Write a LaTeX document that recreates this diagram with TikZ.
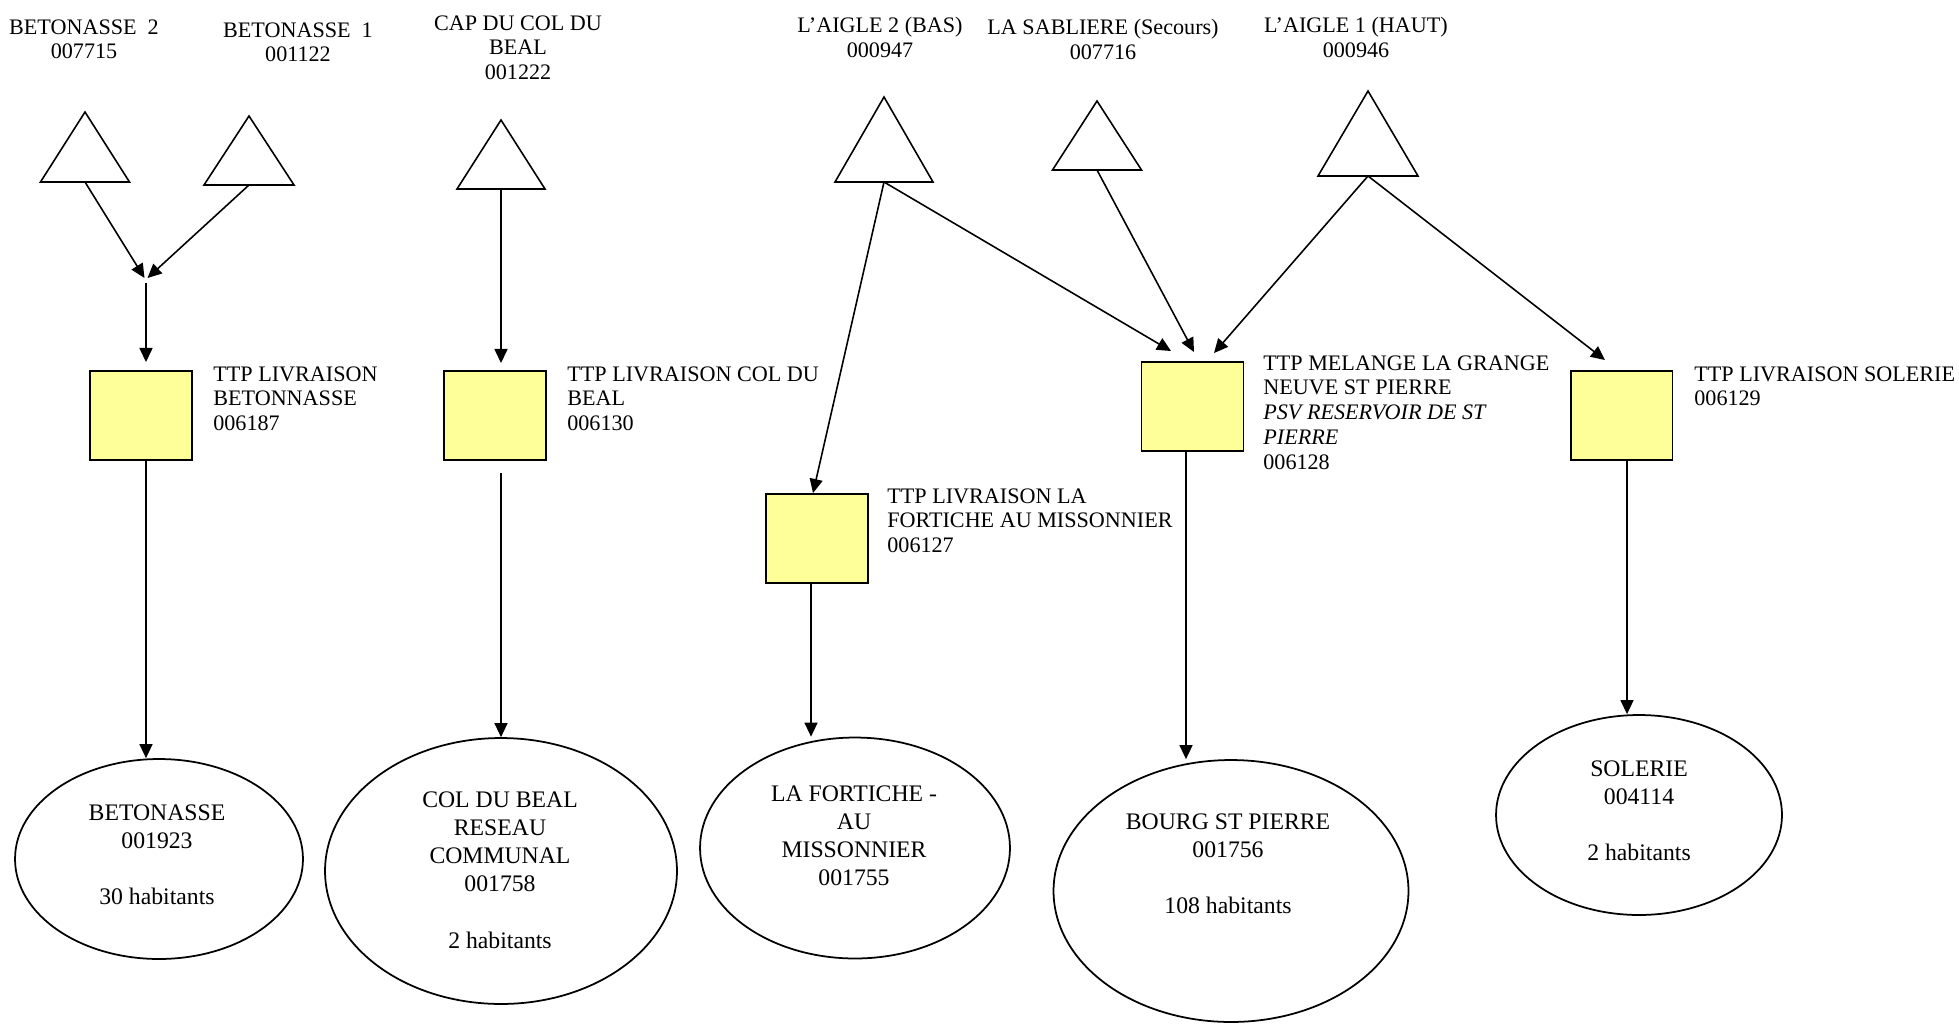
\documentclass[tikz,border=0pt]{standalone}
\usepackage{fontspec}
\setmainfont{Liberation Serif}
\usetikzlibrary{arrows.meta,shapes.geometric,calc}
\definecolor{ttpyellow}{HTML}{FFFF99}
\begin{document}
\begin{tikzpicture}[x=0.02cm,y=-0.02cm,
  arr/.style={-{Triangle[length=8pt,width=7.4pt]}, line width=0.9pt},
  tank/.style={draw, fill=ttpyellow, line width=1.1pt, minimum width=2.04cm, minimum height=1.78cm, inner sep=0pt},
  ttplabel/.style={anchor=north west, align=left, inner sep=0pt, font=\fontsize{12.6}{14.2}\selectfont},
  srclabel/.style={anchor=north, align=center, inner sep=0pt, font=\fontsize{12.6}{14.2}\selectfont},
  commune/.style={draw, ellipse, inner sep=0pt, line width=1pt},
  ctext/.style={anchor=north, align=center, inner sep=0pt, font=\fontsize{13.5}{16.1}\selectfont},
  pics/srctri/.style 2 args={code={
    \draw[line width=0.9pt] (-#1/2,0) -- (0,-#2) -- (#1/2,0) -- cycle;
    \coordinate (-b) at (0,0);}}
]
\useasboundingbox (0,0) rectangle (1959,1024);

% source labels
\node[srclabel] (l-tb2) at (84,19) {BETONASSE\ \ 2\\007715};
\node[srclabel] (l-tb1) at (298,22) {BETONASSE\ \ 1\\001122};
\node[srclabel] (l-cap) at (518,15) {CAP DU COL DU\\BEAL\\001222};
\node[srclabel] (l-a2) at (880,17) {L’AIGLE 2 (BAS)\\000947};
\node[srclabel] (l-sab) at (1103,19) {LA SABLIERE (Secours)\\007716};
\node[srclabel] (l-a1) at (1356,17) {L’AIGLE 1 (HAUT)\\000946};

% source triangles
\pic (tb2) at (85,182) {srctri={89}{70}};
\pic (tb1) at (249,185) {srctri={90}{69}};
\pic (tcap) at (501,189) {srctri={88}{69}};
\pic (ta2) at (884,182) {srctri={98}{85}};
\pic (tsab) at (1097,170) {srctri={89}{69}};
\pic (ta1) at (1368,176) {srctri={100}{85}};

% treatment squares
\node[tank] (sqbet) at (141,415.5) {};
\node[tank] (sqcol) at (495,415.5) {};
\node[tank] (sqfor) at (817,538.5) {};
\node[tank] (sqmel) at (1192.5,406.5) {};
\node[tank] (sqsol) at (1621.5,415.5) {};

\node[ttplabel] (t-bet) at (213,366) {TTP LIVRAISON\\BETONNASSE\\006187};
\node[ttplabel] (t-col) at (567,366) {TTP LIVRAISON COL DU\\BEAL\\006130};
\node[ttplabel] (t-for) at (887,488) {TTP LIVRAISON LA\\FORTICHE AU MISSONNIER\\006127};
\node[ttplabel] (t-mel) at (1263,355) {TTP MELANGE LA GRANGE\\NEUVE ST PIERRE\\\textit{PSV RESERVOIR DE ST}\\\textit{PIERRE}\\006128};
\node[ttplabel] (t-sol) at (1694,366) {TTP LIVRAISON SOLERIE\\006129};

% communes
\node[commune, minimum width=5.76cm, minimum height=4.0cm] (ebet) at (159,859) {};
\node[commune, minimum width=7.04cm, minimum height=5.32cm] (ecol) at (501,871) {};
\node[commune, minimum width=6.2cm, minimum height=4.42cm] (efor) at (855,848) {};
\node[commune, minimum width=7.1cm, minimum height=5.24cm] (ebsp) at (1231,891) {};
\node[commune, minimum width=5.72cm, minimum height=4.0cm] (esol) at (1639,815) {};

\node[ctext] (ebet-t) at (157,804) {BETONASSE\\001923\\[16.1pt]30 habitants};
\node[ctext] (ecol-t) at (500,791) {COL DU BEAL\\RESEAU\\COMMUNAL\\001758\\[16.1pt]2 habitants};
\node[ctext] (efor-t) at (854,785) {LA FORTICHE -\\AU\\MISSONNIER\\001755};
\node[ctext] (ebsp-t) at (1228,813) {BOURG ST PIERRE\\001756\\[16.1pt]108 habitants};
\node[ctext] (esol-t) at (1639,760) {SOLERIE\\004114\\[16.1pt]2 habitants};

% connectors: sources to treatments
\coordinate (mrg) at (146,278);
\draw[arr] (tb2-b) -- ([xshift=-0.03cm]mrg);
\draw[arr] (tb1-b) -- ([xshift=0.03cm]mrg);
\draw[arr, shorten <=0.1cm, shorten >=0.16cm] (mrg) -- (mrg |- sqbet.north);
\draw[arr, shorten >=0.14cm] (tcap-b) -- (tcap-b |- sqcol.north);
\draw[arr] (ta2-b) -- ([xshift=-0.08cm]sqfor.north);
\draw[arr] (ta2-b) -- ([xshift=-0.43cm,yshift=0.2cm]sqmel.north);
\draw[arr] (tsab-b) -- ([xshift=0.03cm,yshift=0.18cm]sqmel.north);
\draw[arr] (ta1-b) -- ([xshift=0.43cm,yshift=0.16cm]sqmel.north);
\draw[arr] (ta1-b) -- ([xshift=-0.33cm,yshift=0.2cm]sqsol.north);

% connectors: treatments to communes
\coordinate (bet-o) at ([xshift=0.1cm]sqbet.south);
\coordinate (col-o) at ([xshift=0.12cm]sqcol.south);
\coordinate (for-o) at ([xshift=-0.12cm]sqfor.south);
\coordinate (mel-o) at ([xshift=-0.13cm]sqmel.south);
\coordinate (sol-o) at ([xshift=0.11cm]sqsol.south);
\draw[arr] (bet-o) -- (bet-o |- ebet.north);
\draw[arr, shorten <=0.24cm] (col-o) -- (col-o |- ecol.north);
\draw[arr] (for-o) -- (for-o |- efor.north);
\draw[arr] (mel-o) -- (mel-o |- ebsp.north);
\draw[arr] (sol-o) -- (sol-o |- esol.north);
\end{tikzpicture}
\end{document}
